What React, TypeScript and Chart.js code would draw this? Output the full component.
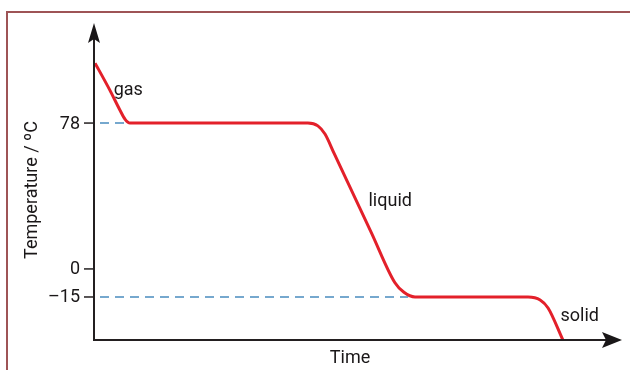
import React, { useEffect, useRef } from "react";
import { Chart, registerables } from "chart.js";

Chart.register(...registerables);

// Heating/cooling curve (time in arbitrary units, temperature in °C)
const curveTime = [0.2, 0.6, 3.0, 4.9, 5.9, 6.8, 40.5, 42.4, 43.75, 45.5, 48.1, 52.5, 57.0, 58.7, 60.8, 82.2, 84.5, 86.0, 88.8];
const curveTemp = [110, 108, 95.6, 85, 80, 78, 78, 76.5, 72.1, 61.6, 46, 19.6, -7.4, -12.5, -15, -15, -16.6, -20.9, -38];

// Dashed guide lines
const guide78Time = [0, 6.8];
const guide78Temp = [78, 78];
const guideM15Time = [0, 59.5];
const guideM15Temp = [-15, -15];

// Y tick values and labels
const yTickValues = [78, 0, -15];
const yTickLabels = ["78", "0", "\u201315"];

// Phase labels
const phaseNames = ["gas", "liquid", "solid"];
const phaseTime = [6.5, 56.1, 92.0];
const phaseTemp = [95.6, 35.8, -25.7];

const xTitle = "Time";
const yTitle = "Temperature / \u00BAC";

const FONT = "Roboto, sans-serif";

export default function App() {
  const ref = useRef<HTMLCanvasElement>(null);
  useEffect(() => {
    document.body.style.margin = "0";
    const canvas = ref.current!;
    const toPts = (xs: number[], ys: number[]) => xs.map((x, i) => ({ x, y: ys[i] }));

    const overlay = {
      id: "overlay",
      beforeDraw(chart: any) {
        const ctx = chart.ctx;
        ctx.save();
        ctx.strokeStyle = "#9e5456";
        ctx.lineWidth = 2;
        ctx.strokeRect(7, 12, 700, 500);
        ctx.restore();
      },
      afterDatasetsDraw(chart: any) {
        const ctx = chart.ctx;
        const xs = chart.scales.x;
        const ys = chart.scales.y;
        const ax = xs.getPixelForValue(0);
        const ay = ys.getPixelForValue(ys.min);
        const top = ys.getPixelForValue(ys.max);
        const right = xs.getPixelForValue(xs.max);
        ctx.save();
        ctx.strokeStyle = "#231f20";
        ctx.fillStyle = "#1a1718";
        ctx.lineWidth = 2;
        // axes
        ctx.beginPath();
        ctx.moveTo(ax, top + 16);
        ctx.lineTo(ax, ay + 1);
        ctx.moveTo(ax - 1, ay);
        ctx.lineTo(right - 16, ay);
        ctx.stroke();
        // y arrow
        ctx.beginPath();
        ctx.moveTo(ax, top);
        ctx.lineTo(ax + 6, top + 20);
        ctx.lineTo(ax, top + 16);
        ctx.lineTo(ax - 6, top + 20);
        ctx.closePath();
        ctx.fill();
        // x arrow
        ctx.beginPath();
        ctx.moveTo(right, ay);
        ctx.lineTo(right - 20, ay - 8);
        ctx.lineTo(right - 16, ay);
        ctx.lineTo(right - 20, ay + 8);
        ctx.closePath();
        ctx.fill();
        // ticks
        ctx.lineWidth = 1.5;
        ctx.font = `18px ${FONT}`;
        ctx.textAlign = "right";
        ctx.textBaseline = "middle";
        yTickValues.forEach((v, i) => {
          const py = ys.getPixelForValue(v);
          ctx.beginPath();
          ctx.moveTo(ax - 10, py);
          ctx.lineTo(ax, py);
          ctx.stroke();
          ctx.fillText(yTickLabels[i], ax - 14, py + 1);
        });
        // phase labels
        ctx.textAlign = "center";
        phaseNames.forEach((n, i) => {
          ctx.fillText(n, xs.getPixelForValue(phaseTime[i]), ys.getPixelForValue(phaseTemp[i]));
        });
        // axis titles
        ctx.fillText(xTitle, xs.getPixelForValue(48.5), ay + 18);
        ctx.translate(32, 190);
        ctx.rotate(-Math.PI / 2);
        ctx.fillText(yTitle, 0, 0);
        ctx.restore();
      },
    };

    const chart = new Chart(canvas, {
      type: "line",
      data: {
        datasets: [
          {
            data: toPts(curveTime, curveTemp),
            borderColor: "#e3202a",
            borderWidth: 3,
            pointRadius: 0,
            cubicInterpolationMode: "monotone",
            fill: false,
            order: 0,
          },
          {
            data: toPts(guide78Time, guide78Temp),
            borderColor: "#4a8cbf",
            borderWidth: 1.5,
            borderDash: [9, 6],
            borderDashOffset: 9,
            pointRadius: 0,
            order: 1,
          },
          {
            data: toPts(guideM15Time, guideM15Temp),
            borderColor: "#4a8cbf",
            borderWidth: 1.5,
            borderDash: [9, 6],
            borderDashOffset: 9,
            pointRadius: 0,
            order: 1,
          },
        ],
      },
      options: {
        responsive: false,
        animation: false,
        layout: { padding: { left: 94, right: 8, top: 23, bottom: 30 } },
        plugins: { legend: { display: false }, tooltip: { enabled: false } },
        scales: {
          x: { type: "linear", min: 0, max: 100, display: false },
          y: { type: "linear", min: -38, max: 131.5, display: false },
        },
      },
      plugins: [overlay],
    });
    return () => chart.destroy();
  }, []);
  return (
    <div style={{ width: 630, height: 370, background: "#fff" }}>
      <canvas ref={ref} width={630} height={370} />
    </div>
  );
}
